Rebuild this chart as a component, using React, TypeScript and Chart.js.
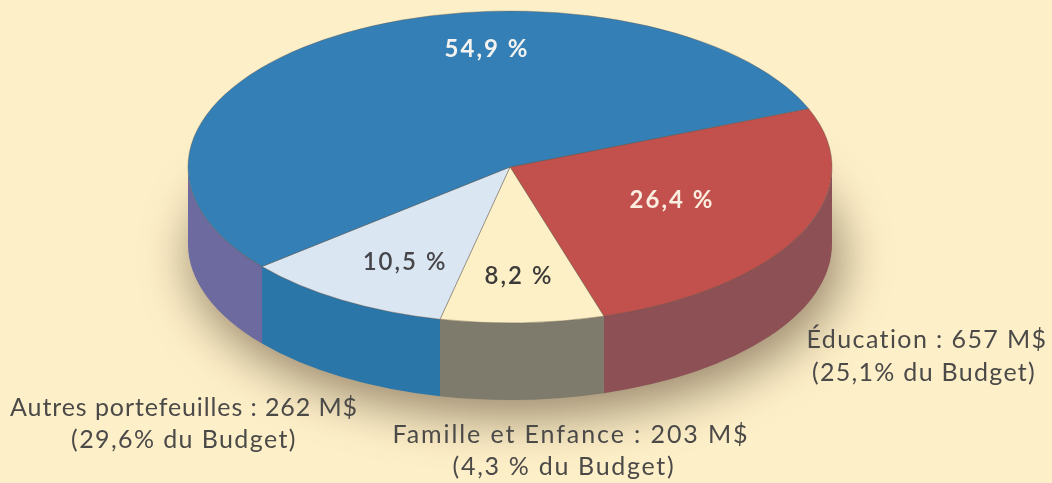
import React, { useEffect, useRef } from "react";
import { Chart, registerables } from "chart.js";

Chart.register(...registerables);

const categories = ["Éducation", "Famille et Enfance", "Autres portefeuilles", ""];
const shares = [26.4, 8.2, 10.5, 54.9];
const shareLabels = ["26,4 %", "8,2 %", "10,5 %", "54,9 %"];
const topColors = ["#c2504c", "#fdf0c6", "#dbe6f3", "#3480b6"];
const sideColors = ["#8c5055", "#7e7b6d", "#2a76a9", "#6c6a9e"];
const noteLines = [
  ["Éducation : 657 M$", "(25,1% du Budget)"],
  ["Famille et Enfance : 203 M$", "(4,3 % du Budget)"],
  ["Autres portefeuilles : 262 M$", "(29,6% du Budget)"],
];

const BG = "#fdefc8";
const CX = 510, CY = 167, RX = 322, RY = 156, DEPTH = 77;
const FONT = "Lato, 'Open Sans', sans-serif";

const shareSpots = [[672, 200], [519, 276], [405, 262], [487, 49]];
const shareInk = ["#fbeee0", "#3c3a38", "#46464a", "#f4f3f0"];
// per line: x, y, tracking
const noteSpots = [
  [[927, 340, 1.4], [924, 373, 1.3]],
  [[571, 435, 1.9], [564, 467, 1.7]],
  [[184, 408, 0.9], [184, 440, 1.4]],
];

const pie3d = {
  id: "pie3d",
  beforeDatasetsDraw(chart: any) {
    const ctx = chart.ctx;
    const arcs = chart.getDatasetMeta(0).data;
    // soft shadow
    ctx.save();
    ctx.filter = "blur(24px)";
    ctx.fillStyle = "rgba(90,70,50,0.6)";
    ctx.beginPath();
    ctx.ellipse(CX + 6, CY + DEPTH + 14, RX + 4, RY + 4, 0, 0, Math.PI * 2);
    ctx.fill();
    ctx.restore();
    // extruded rim
    arcs.forEach((arc: any, i: number) => {
      for (let k = -2; k <= 2; k++) {
        const a = Math.max(arc.startAngle + k * 2 * Math.PI, 0);
        const b = Math.min(arc.endAngle + k * 2 * Math.PI, Math.PI);
        if (b <= a) continue;
        ctx.save();
        ctx.fillStyle = sideColors[i];
        ctx.beginPath();
        ctx.ellipse(CX, CY, RX, RY, 0, a, b);
        ctx.ellipse(CX, CY + DEPTH, RX, RY, 0, b, a, true);
        ctx.closePath();
        ctx.fill();
        ctx.restore();
      }
    });
    // squash the circular pie into the tilted disc
    const first = arcs[0];
    ctx.save();
    ctx.translate(CX, CY);
    ctx.scale(1, RY / RX);
    ctx.translate(-first.x, -first.y);
  },
  afterDatasetsDraw(chart: any) {
    const ctx = chart.ctx;
    ctx.restore();
    ctx.save();
    ctx.textAlign = "center";
    ctx.textBaseline = "middle";
    ctx.letterSpacing = "2px";
    shareLabels.forEach((t, i) => {
      ctx.font = `${i === 0 || i === 3 ? 700 : 600} 24px ${FONT}`;
      ctx.fillStyle = shareInk[i];
      ctx.fillText(t, shareSpots[i][0], shareSpots[i][1]);
    });
    ctx.font = `400 25px ${FONT}`;
    ctx.fillStyle = "#4b4a48";
    noteLines.forEach((lines, i) => {
      lines.forEach((t, j) => {
        const [x, y, track] = noteSpots[i][j];
        ctx.letterSpacing = `${track}px`;
        ctx.fillText(t, x, y);
      });
    });
    ctx.restore();
  },
};

export default function App() {
  const ref = useRef<HTMLCanvasElement>(null);
  useEffect(() => {
    const chart = new Chart(ref.current!, {
      type: "pie",
      data: {
        labels: categories,
        datasets: [
          {
            data: shares,
            backgroundColor: topColors,
            borderColor: "rgba(95,85,75,0.55)",
            borderWidth: 1,
            clip: 4000,
          } as any,
        ],
      },
      options: {
        responsive: false,
        animation: false,
        rotation: 68,
        radius: RX,
        layout: { padding: 0 },
        plugins: { legend: { display: false }, tooltip: { enabled: false } },
      } as any,
      plugins: [pie3d],
    });
    return () => chart.destroy();
  }, []);
  return (
    <div style={{ position: "fixed", inset: 0, background: BG, overflow: "hidden" }}>
      <canvas ref={ref} width={1052} height={483} style={{ display: "block", filter: "blur(0.6px)" }} />
    </div>
  );
}
